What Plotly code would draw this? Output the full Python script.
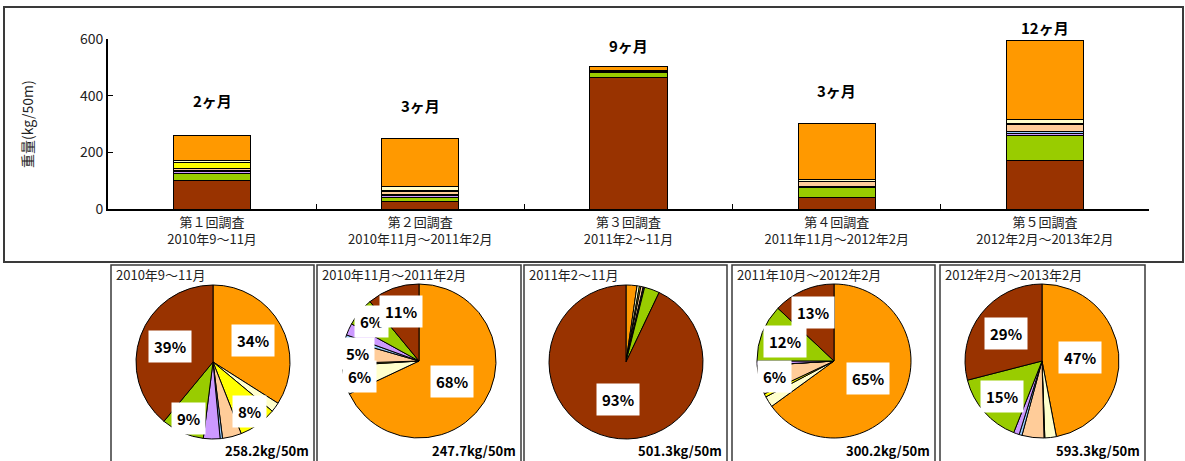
import math
import plotly.graph_objects as go

# ---- data (kg/50m), one list per component, survey order 1..5 ----
surveys = ["第１回調査<br>2010年9～11月",
           "第２回調査<br>2010年11月～2011年2月",
           "第３回調査<br>2011年2～11月",
           "第４回調査<br>2011年11月～2012年2月",
           "第５回調査<br>2012年2月～2013年2月"]
pie_titles = ["2010年9～11月", "2010年11月～2011年2月", "2011年2～11月",
              "2011年10月～2012年2月", "2012年2月～2013年2月"]
durations = ["2ヶ月", "3ヶ月", "9ヶ月", "3ヶ月", "12ヶ月"]

brown_vals = [100.7, 27.2, 465.8, 39.0, 172.1]
green_vals = [23.2, 14.9, 16.0, 36.0, 89.0]
purple_vals = [9.0, 6.2, 1.0, 3.0, 7.1]
lightblue_vals = [1.3, 2.5, 0.5, 0.1, 3.6]
peach_vals = [10.3, 12.4, 2.5, 18.0, 27.3]
yellow_vals = [20.7, 1.2, 1.5, 2.1, 1.0]
lightyellow_vals = [5.2, 14.9, 2.5, 6.9, 14.3]
orange_vals = [87.8, 168.4, 11.5, 195.1, 278.9]

# stacking order, bottom to top
components = [
    ("brown", brown_vals, "#993300"),
    ("green", green_vals, "#99CC00"),
    ("purple", purple_vals, "#CC99FF"),
    ("lightblue", lightblue_vals, "#99CCFF"),
    ("peach", peach_vals, "#FFCC99"),
    ("yellow", yellow_vals, "#FFFF00"),
    ("lightyellow", lightyellow_vals, "#FFFFCC"),
    ("orange", orange_vals, "#FF9900"),
]

W, H = 1185, 461
FONT = "Noto Sans CJK JP"


def fx(px):
    return px / W


def fy(py):
    return 1 - py / H


fig = go.Figure()

# ---- stacked bars ----
for name, vals, color in components:
    fig.add_trace(go.Bar(
        x=surveys, y=vals, name=name, marker_color=color,
        marker_line=dict(color="#000000", width=1),
        xaxis="x", yaxis="y", showlegend=False, hoverinfo="y"))

totals = [sum(c[1][i] for c in components) for i in range(len(surveys))]

annotations = []
duration_shift = [32, 30, 18, 30, 10]
for i, lbl in enumerate(durations):
    annotations.append(dict(
        x=surveys[i], y=totals[i], xref="x", yref="y", text=lbl,
        showarrow=False, xanchor="center", yanchor="bottom",
        yshift=duration_shift[i] - 9,
        font=dict(family=FONT, size=15, color="#000000", weight="bold")))

annotations.append(dict(
    x=fx(27), y=fy(124), xref="paper", yref="paper", text="重量(kg/50m)",
    textangle=-90, showarrow=False, xanchor="center", yanchor="middle",
    font=dict(family=FONT, size=14, color="#222222")))

# ---- pies ----
pie_centers = [(213, 362), (419, 361), (626, 362), (834, 361), (1042, 361)]
R = 77
panels = [(111, 314), (317, 521), (524, 727), (732, 935), (940, 1145)]
pie_order = list(reversed(components))  # clockwise from 12 o'clock

shapes = [dict(type="rect", xref="paper", yref="paper",
               x0=fx(4), x1=fx(1183), y0=fy(262), y1=fy(7),
               line=dict(color="#3a3a3a", width=2), layer="above")]

for i, (cx, cy) in enumerate(pie_centers):
    vals = [c[1][i] for c in pie_order]
    cols = [c[2] for c in pie_order]
    total = sum(vals)
    fig.add_trace(go.Pie(
        values=vals, labels=[c[0] for c in pie_order], sort=False,
        direction="clockwise", rotation=0, automargin=False,
        marker=dict(colors=cols, line=dict(color="#000000", width=1)),
        textinfo="none", showlegend=False,
        domain=dict(x=[fx(cx - R), fx(cx + R)], y=[fy(cy + R), fy(cy - R)])))

    # percentage labels in white boxes
    cum = 0.0
    for v in vals:
        frac = v / total
        if frac >= 0.047:
            theta = 2 * math.pi * (cum + frac / 2)
            if frac >= 0.45:
                rf = 0.5
            elif frac >= 0.2:
                rf = 0.59
            elif frac >= 0.1:
                rf = 0.69
            else:
                rf = 0.8
            px = cx + rf * R * math.sin(theta)
            py = cy - rf * R * math.cos(theta)
            annotations.append(dict(
                x=fx(px), y=fy(py), xref="paper", yref="paper",
                xanchor="center", yanchor="middle",
                text=f"{round(frac * 100):.0f}%", showarrow=False,
                bgcolor="#FFFFFF", borderpad=5,
                font=dict(family=FONT, size=15, color="#000000", weight="bold")))
        cum += frac

    left, right = panels[i]
    shapes.append(dict(type="rect", xref="paper", yref="paper",
                       x0=fx(left), x1=fx(right), y0=fy(475), y1=fy(265),
                       line=dict(color="#3a3a3a", width=1.5)))
    annotations.append(dict(
        x=fx(left + 3), y=fy(274), xref="paper", yref="paper",
        text=pie_titles[i], showarrow=False, xanchor="left", yanchor="middle",
        font=dict(family=FONT, size=13, color="#222222")))
    annotations.append(dict(
        x=fx(right - 3), y=fy(450), xref="paper", yref="paper",
        text=f"{total:.1f}kg/50m", showarrow=False,
        xanchor="right", yanchor="middle",
        font=dict(family=FONT, size=13, color="#000000", weight="bold")))

fig.update_layout(
    width=W, height=H, margin=dict(l=0, r=0, t=0, b=0, pad=0, autoexpand=False),
    paper_bgcolor="#FFFFFF", plot_bgcolor="#FFFFFF",
    barmode="stack", bargap=0.63,
    font=dict(family=FONT, size=13, color="#222222"),
    xaxis=dict(domain=[fx(108), fx(1149)], anchor="y", automargin=False,
               showline=True, linecolor="#000000", linewidth=2,
               ticks="inside", tickson="boundaries", ticklen=5,
               tickcolor="#000000", tickwidth=1,
               tickfont=dict(family=FONT, size=13, color="#222222"),
               showgrid=False, fixedrange=True),
    yaxis=dict(domain=[fy(209), fy(39)], anchor="x", range=[0, 600],
               automargin=False, tickvals=[0, 200, 400, 600],
               showline=True, linecolor="#000000", linewidth=2,
               ticks="inside", ticklen=5, tickcolor="#000000",
               tickfont=dict(family=FONT, size=14, color="#222222"),
               showgrid=False, zeroline=False, fixedrange=True),
    annotations=annotations, shapes=shapes,
)

fig.write_html("out.html")
